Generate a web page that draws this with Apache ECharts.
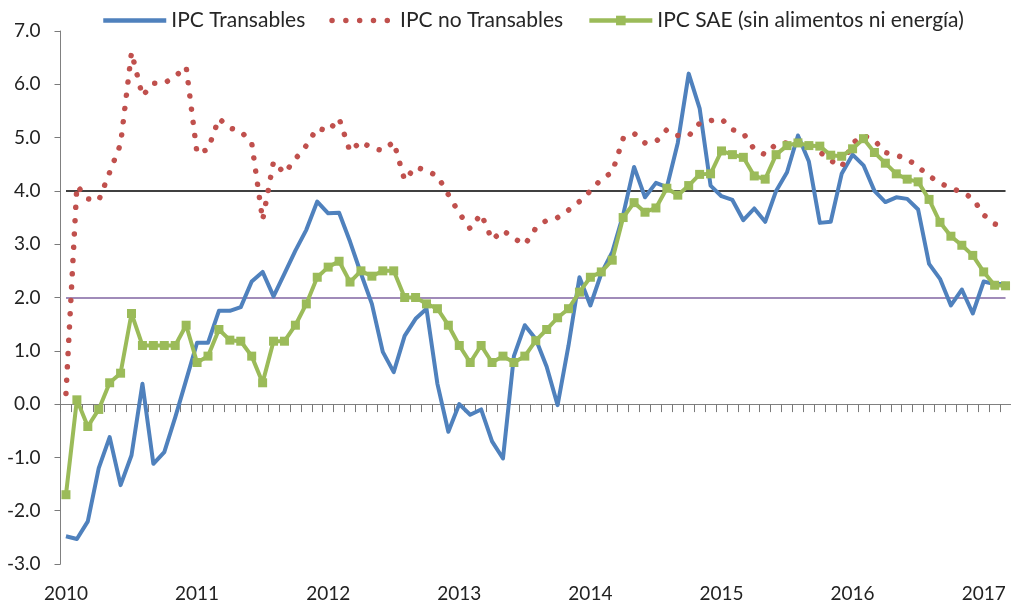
<!DOCTYPE html>
<html>
<head>
<meta charset="utf-8">
<script src="https://cdn.jsdelivr.net/npm/echarts@6/dist/echarts.min.js"></script>
<style>
html,body{margin:0;padding:0;background:#fff;}
#chart{width:1011px;height:605px;}
</style>
</head>
<body>
<div id="chart"></div>
<script>
// ---- data ----
const years = ['2010','2011','2012','2013','2014','2015','2016','2017'];
const seriesNames = ['IPC Transables','IPC no Transables','IPC SAE (sin alimentos ni energía)'];
const transables = [
 -2.48,-2.53,-2.2,-1.2,-0.62,-1.52,-0.96,0.38,-1.12,-0.9,-0.25,0.45,
 1.15,1.15,1.75,1.75,1.82,2.3,2.48,2.02,2.45,2.88,3.27,3.8,
 3.58,3.59,3.05,2.45,1.88,0.98,0.6,1.28,1.6,1.79,0.38,-0.52,
 0.0,-0.2,-0.1,-0.7,-1.02,0.9,1.48,1.22,0.7,-0.02,1.1,2.38,
 1.85,2.45,2.85,3.55,4.45,3.88,4.15,4.07,4.9,6.2,5.55,4.1,
 3.9,3.83,3.45,3.67,3.42,4.0,4.35,5.04,4.55,3.4,3.42,4.32,
 4.68,4.48,4.0,3.79,3.88,3.85,3.65,2.63,2.35,1.85,2.15,1.7,
 2.3,2.25,2.26
];
const noTransables = [
 0.2,4.1,3.85,3.82,4.35,4.88,6.6,5.78,6.02,6.02,6.15,6.33,
 4.7,4.78,5.36,5.18,5.12,4.9,3.45,4.55,4.33,4.6,4.85,5.18,
 5.12,5.36,4.74,4.93,4.8,4.76,4.92,4.2,4.45,4.38,4.28,3.93,
 3.58,3.29,3.57,3.08,3.26,3.11,2.99,3.3,3.45,3.5,3.64,3.8,
 4.0,4.22,4.35,4.98,5.08,4.9,4.92,5.15,5.04,5.03,5.27,5.32,
 5.35,5.15,5.08,4.78,4.68,4.88,4.9,4.92,4.88,4.73,4.57,4.45,
 4.9,5.04,4.95,4.72,4.67,4.6,4.45,4.28,4.15,4.05,3.98,3.86,
 3.55,3.38,3.32
];
const sae = [
 -1.7,0.08,-0.42,-0.1,0.4,0.58,1.7,1.1,1.1,1.1,1.1,1.48,
 0.78,0.9,1.4,1.2,1.18,0.9,0.4,1.18,1.18,1.48,1.88,2.38,
 2.57,2.68,2.29,2.5,2.4,2.5,2.5,2.0,2.0,1.88,1.79,1.48,
 1.1,0.78,1.1,0.78,0.9,0.78,0.9,1.19,1.4,1.62,1.79,2.1,
 2.38,2.48,2.7,3.5,3.78,3.6,3.68,4.05,3.92,4.1,4.31,4.32,
 4.75,4.68,4.63,4.28,4.22,4.68,4.85,4.9,4.85,4.84,4.67,4.65,
 4.79,4.98,4.72,4.52,4.32,4.22,4.17,3.84,3.41,3.15,2.98,2.79,
 2.48,2.23,2.22
];
const refLines = [4.0, 2.0];
const yTicks = {min: -3, max: 7, step: 1};

// categories: monthly, Jan 2010 onward
const categories = [];
for (let i = 0; i < transables.length; i++) {
  const y = years[Math.floor(i / 12)];
  const m = (i % 12) + 1;
  categories.push(y + '-' + (m < 10 ? '0' + m : m));
}

const FONT = 'Lato';
const chart = echarts.init(document.getElementById('chart'), null, {renderer: 'canvas'});
const lastCat = categories[categories.length - 1];

chart.setOption({
  animation: false,
  backgroundColor: '#ffffff',
  grid: {left: 60.5, right: -6.5, top: 31, bottom: 41, containLabel: false},
  legend: {
    left: 101, top: 10, padding: 0,
    itemWidth: 63, itemHeight: 12, itemGap: 24,
    textStyle: {fontFamily: FONT, fontSize: 21, color: '#262626'},
    data: [
      {name: seriesNames[0], itemStyle: {opacity: 0}, lineStyle: {width: 4.5, color: '#4F81BD', type: 'solid'}},
      {name: seriesNames[1], itemStyle: {opacity: 0}, lineStyle: {width: 5.5, color: '#C0504D', type: [0.01, 13.8], cap: 'round'}},
      {name: seriesNames[2], lineStyle: {width: 4.5, color: '#9BBB59', type: 'solid'}}
    ]
  },
  xAxis: [
    {
      type: 'category', data: categories, boundaryGap: true,
      axisLine: {show: true, onZero: true, lineStyle: {color: '#808080', width: 1}},
      axisTick: {show: true, interval: 0, inside: false, alignWithLabel: false, length: 8,
                 lineStyle: {color: '#7a7a7a', width: 1}},
      axisLabel: {show: true, interval: 0, formatter: function () { return ''; }},
      splitLine: {show: false}
    },
    {
      type: 'category', data: categories, boundaryGap: true, position: 'bottom',
      axisLine: {show: false, onZero: false},
      axisTick: {show: false},
      axisLabel: {
        show: true, margin: 20,
        interval: function (idx) { return idx % 12 === 0; },
        formatter: function (v) { return v.slice(0, 4); },
        fontFamily: FONT, fontSize: 19, color: '#222'
      },
      splitLine: {show: false}
    }
  ],
  yAxis: {
    type: 'value', min: yTicks.min, max: yTicks.max, interval: yTicks.step,
    axisLine: {show: true, lineStyle: {color: '#808080', width: 1}},
    axisTick: {show: true, length: 6, lineStyle: {color: '#7a7a7a'}},
    axisLabel: {margin: 20, fontFamily: FONT, fontSize: 19, color: '#222',
      formatter: function (v) { return v.toFixed(1); }},
    splitLine: {show: false}
  },
  series: [
    {
      name: seriesNames[0], type: 'line', data: transables, xAxisIndex: 0,
      symbol: 'none', smooth: false, z: 2,
      lineStyle: {color: '#4F81BD', width: 4, join: 'round'},
      itemStyle: {color: '#4F81BD'},
      markLine: {
        silent: true, symbol: ['none', 'none'], z: 1,
        label: {show: false},
        data: [
          [{coord: [categories[0], refLines[0]], lineStyle: {color: '#000000', width: 1.5, type: 'solid'}},
           {coord: [lastCat, refLines[0]]}],
          [{coord: [categories[0], refLines[1]], lineStyle: {color: '#8064A2', width: 1.5, type: 'solid'}},
           {coord: [lastCat, refLines[1]]}]
        ]
      }
    },
    {
      name: seriesNames[1], type: 'line', data: noTransables, xAxisIndex: 0,
      symbol: 'none', smooth: false, z: 3,
      lineStyle: {color: '#C0504D', width: 5.5, type: [0.01, 13.3], cap: 'round', join: 'round'},
      itemStyle: {color: '#C0504D'}
    },
    {
      name: seriesNames[2], type: 'line', data: sae, xAxisIndex: 0,
      symbol: 'rect', symbolSize: 9, showSymbol: true, showAllSymbol: true, smooth: false, z: 4,
      lineStyle: {color: '#9BBB59', width: 4, join: 'round'},
      itemStyle: {color: '#9BBB59', borderWidth: 0}
    }
  ]
});
</script>
</body>
</html>
